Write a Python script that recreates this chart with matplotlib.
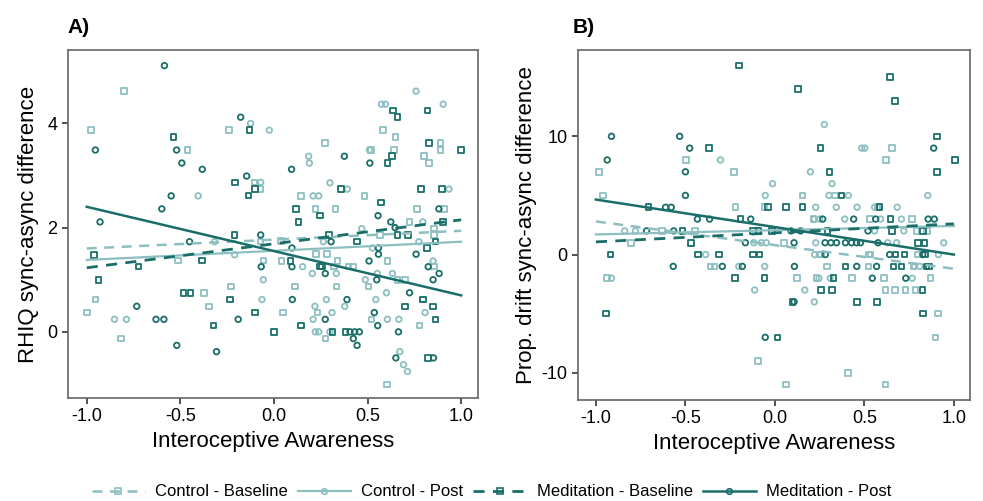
import numpy as np
import matplotlib.pyplot as plt
from matplotlib.lines import Line2D

plt.rcParams['font.family'] = ['Liberation Sans', 'DejaVu Sans']
plt.rcParams['axes.unicode_minus'] = False

light = '#8dbfc1'
dark = '#1a6e69'

# ---------- Panel A: RHIQ ----------
a_cb = [(-0.80,4.62),(-0.977,3.87),(-0.463,3.49),(-0.24,3.87),(-0.103,2.87),(-0.071,2.74),
        (0.581,3.87),(0.649,3.74),(0.273,3.62),(0.889,3.62),(0.889,3.49),(0.519,3.49),(0.642,3.49),
        (0.80,3.37),(0.827,3.24),(0.143,2.61),(0.483,2.61),(0.223,2.36),(0.328,2.36),(0.765,2.36),
        (0.909,2.36),(0.724,2.11),(-0.071,1.73),(-0.513,1.37),(-0.057,1.37),(-0.23,0.87),(-0.374,0.75),
        (-0.954,0.62),(-0.348,0.49),(-1.0,0.37),(-0.818,-0.13),(0.567,1.86),(0.856,1.98),(0.856,1.86),
        (0.037,1.74),(0.225,1.49),(0.282,1.49),(0.041,1.36),(0.34,1.36),(0.606,1.36),(0.321,1.25),
        (0.397,1.25),(0.421,1.25),(0.856,1.25),(0.659,1.0),(0.701,1.0),(0.111,0.87),(0.333,0.87),
        (0.506,0.87),(0.795,0.62),(0.048,0.37),(0.233,0.37),(0.522,0.24),(0.777,0.12),(0.276,-0.13),
        (0.604,-1.01)]
a_cp = [(-0.125,4.0),(-0.025,3.87),(-0.071,2.87),(-0.405,2.61),(0.759,4.62),(0.574,4.37),(0.595,4.37),
        (0.904,4.37),(0.51,3.49),(0.185,3.37),(0.189,3.24),(0.299,2.86),(0.392,2.74),(0.209,2.61),
        (0.239,2.61),(0.935,2.74),(0.795,2.11),(-0.317,1.73),(-0.21,1.48),(-0.057,1.0),(-0.064,0.62),
        (-0.852,0.24),(-0.788,0.24),(0.469,1.98),(0.264,1.73),(0.774,1.73),(0.526,1.61),(0.85,1.36),
        (0.153,1.25),(0.205,1.12),(0.333,1.12),(0.552,1.12),(0.633,1.12),(0.488,1.0),(0.601,0.75),
        (0.28,0.62),(0.544,0.62),(0.219,0.49),(0.378,0.49),(0.31,0.37),(0.807,0.37),(0.209,0.24),
        (0.606,0.24),(0.667,0.24),(0.221,0.0),(0.239,0.0),(0.299,0.0),(0.672,-0.38),(0.692,-0.63),
        (0.713,-0.76)]
a_mb = [(-0.536,3.74),(-0.13,3.87),(-0.207,2.87),(-0.10,2.74),(-0.137,2.62),(0.635,4.25),(0.661,4.12),
        (0.82,4.25),(0.827,3.62),(1.0,3.49),(0.631,3.37),(0.606,3.24),(0.358,2.74),(0.784,2.74),
        (0.898,2.74),(0.572,2.48),(0.119,2.36),(0.246,2.23),(0.132,2.11),(0.904,2.11),(-0.21,1.86),
        (-0.961,1.48),(-0.385,1.37),(-0.724,1.25),(-0.937,1.0),(-0.483,0.75),(-0.446,0.75),
        (-0.234,0.62),(-0.1,0.37),(-0.324,0.12),(0.0,0.0),(0.294,1.86),(0.661,1.86),(0.715,1.86),
        (0.445,1.73),(0.864,1.73),(0.816,1.61),(0.089,1.36),(0.246,1.25),(0.258,1.25),(0.795,0.62),
        (0.701,0.49),(0.85,0.49),(0.864,0.24),(0.143,0.12),(0.313,0.0),(0.381,0.0),(0.822,-0.5)]
a_mp = [(-0.585,5.11),(-0.954,3.49),(-0.52,3.49),(-0.492,3.24),(-0.383,3.12),(-0.178,4.12),(-0.146,2.99),
        (-0.549,2.61),(-0.599,2.36),(-0.929,2.11),(0.376,3.37),(0.512,3.24),(0.094,3.12),(0.881,2.36),
        (0.556,2.23),(0.624,2.11),(-0.071,1.86),(-0.451,1.73),(-0.068,1.25),(-0.733,0.49),(-0.63,0.24),
        (-0.588,0.24),(-0.191,0.24),(-0.519,-0.26),(-0.307,-0.38),(0.647,2.0),(0.305,1.73),(0.096,1.61),
        (0.558,1.61),(0.558,1.49),(0.759,1.49),(0.508,1.36),(0.096,1.25),(0.824,1.25),(0.274,1.12),
        (0.882,1.12),(0.549,1.0),(0.85,1.0),(0.724,0.75),(0.098,0.62),(0.39,0.62),(0.536,0.37),
        (0.274,0.24),(0.554,0.12),(0.406,0.0),(0.431,0.0),(0.456,0.0),(0.665,0.0),(0.424,-0.13),
        (0.444,-0.26),(0.651,-0.5),(0.852,-0.5)]
# fitted lines: value at x=-1 and x=1 (CB, CP, MB, MP)
a_fit_left = [1.60, 1.38, 1.23, 2.40]
a_fit_right = [1.94, 1.73, 2.15, 0.70]

# ---------- Panel B: proprioceptive drift ----------
b_cb = [(-0.983,7),(-0.959,5),(-0.496,8),(-0.23,7),(0.654,9),(0.62,8),(0.154,5),(0.335,5),(-0.22,4),
        (-0.057,4),(0.53,3),(0.767,3),(0.215,3),(-0.446,2),(-0.632,2),(0.79,2),(0.85,2),(0.572,4),
        (-0.804,1),(0.052,1),(0.526,0),(0.533,0),(0.8,0),(0.256,0),(-0.359,-1),(-0.337,-1),(0.291,-1),
        (0.524,-1),(0.774,-1),(-0.939,-2),(0.122,-2),(0.233,-2),(0.431,-2),(0.609,-2),(0.868,-2),
        (0.619,-3),(0.672,-3),(0.729,-3),(0.785,-3),(0.911,-5),(0.896,-7),(-0.093,-9),(0.407,-10),
        (0.061,-11),(0.618,-11)]
b_cp = [(0.276,11),(-0.304,8),(0.485,9),(0.502,9),(0.198,7),(-0.013,6),(0.319,6),(-0.054,5),(0.302,5),
        (0.41,5),(0.854,5),(0.228,4),(0.343,4),(0.459,4),(0.557,4),(0.576,4),(0.683,4),(0.22,3),(0.25,3),
        (0.39,3),(0.59,3),(0.707,3),(-0.839,2),(-0.779,2),(0.557,2),(0.72,2),(-0.118,1),(-0.076,1),
        (-0.048,1),(0.228,1),(0.63,1),(0.68,1),(0.943,1),(-0.387,0),(0.222,0),(0.248,0),(0.913,0),
        (-0.202,-1),(-0.057,-1),(0.81,-1),(0.78,-1),(-0.913,-2),(0.246,-2),(0.309,-2),(0.767,-2),
        (-0.113,-3),(0.167,-3),(0.22,-4)]
b_mb = [(-0.2,16),(0.13,14),(0.643,15),(0.672,13),(-0.368,9),(0.254,9),(0.907,10),(1.006,8),(0.306,7),
        (0.904,7),(0.372,5),(-0.707,4),(-0.04,4),(0.063,4),(0.154,4),(0.585,4),(-0.193,3),(0.646,3),
        (-0.517,2),(-0.122,2),(-0.091,2),(-0.017,2),(0.294,2),(0.654,2),(0.826,2),(-0.468,1),(0.798,1),
        (0.835,1),(-0.918,0),(-0.431,0),(-0.311,0),(-0.122,0),(-0.087,0),(0.674,0),(0.724,0),(0.84,0),
        (0.394,-1),(0.663,-1),(0.707,-1),(0.846,-1),(0.86,-1),(-0.222,-2),(-0.059,-2),(0.328,-2),
        (0.257,-3),(0.32,-3),(0.824,-3),(0.098,-4),(0.459,-4),(0.57,-4),(-0.944,-5),(0.826,-5),(0.015,-7)]
b_mp = [(-0.913,10),(-0.937,8),(-0.532,10),(-0.476,9),(-0.5,7),(-0.5,5),(0.887,9),(-0.611,4),(-0.579,4),
        (-0.433,3),(-0.365,3),(-0.135,3),(0.267,3),(0.44,3),(0.563,3),(0.856,3),(0.89,3),(-0.717,2),
        (-0.565,2),(0.09,2),(0.143,2),(0.52,2),(-0.165,1),(0.107,1),(0.28,1),(0.313,1),(0.344,1),
        (0.394,1),(0.428,1),(0.456,1),(0.478,1),(0.576,1),(0.282,0),(0.641,0),(0.826,0),(-0.568,-1),
        (-0.294,-1),(-0.182,-1),(0.109,-1),(0.457,-1),(0.568,-1),(0.544,-2),(0.731,-2),(0.107,-4),
        (-0.054,-7)]
b_fit_left = [2.80, 1.70, 1.07, 4.65]
b_fit_right = [-1.20, 2.42, 2.60, 0.00]

groups = ['Control - Baseline', 'Control - Post', 'Meditation - Baseline', 'Meditation - Post']
colors = [light, light, dark, dark]
markers = ['s', 'o', 's', 'o']
styles = [(0, (4, 3)), '-', (0, (4, 3)), '-']
widths = [1.8, 1.6, 2.0, 1.8]

fig = plt.figure(figsize=(9.83, 5.01), dpi=100)
axA = fig.add_axes([0.0692, 0.2056, 0.4171, 0.6946])
axB = fig.add_axes([0.5880, 0.2016, 0.3988, 0.6986])


def draw(ax, pts, left, right):
    for i in range(4):
        arr = np.array(pts[i])
        ax.scatter(arr[:, 0], arr[:, 1], marker=markers[i], s=16, facecolors='none',
                   edgecolors=colors[i], linewidths=1.3, zorder=2)
    for i in range(4):
        ax.plot([-1, 1], [left[i], right[i]], color=colors[i], linestyle=styles[i],
                linewidth=widths[i], zorder=3)
    ax.set_xlim(-1.1, 1.09)
    ax.set_xticks([-1.0, -0.5, 0.0, 0.5, 1.0])
    ax.set_xticklabels(['-1.0', '-0.5', '0.0', '0.5', '1.0'])
    ax.set_xlabel('Interoceptive Awareness', fontsize=16, labelpad=4)
    ax.tick_params(direction='out', length=4, width=1.2, color='#333333', labelsize=13)
    for sp in ax.spines.values():
        sp.set_color('#666666')
        sp.set_linewidth(1.2)


draw(axA, [a_cb, a_cp, a_mb, a_mp], a_fit_left, a_fit_right)
axA.set_ylim(-1.27, 5.41)
axA.set_yticks([0, 2, 4])
axA.set_ylabel('RHIQ sync-async difference', fontsize=16, labelpad=6)

draw(axB, [b_cb, b_cp, b_mb, b_mp], b_fit_left, b_fit_right)
axB.set_ylim(-12.3, 17.3)
axB.set_yticks([-10, 0, 10])
axB.set_ylabel('Prop. drift sync-async difference', fontsize=16, labelpad=3)

fig.text(0.069, 0.935, 'A)', fontsize=15, fontweight='bold')
fig.text(0.583, 0.935, 'B)', fontsize=15, fontweight='bold')

handles = [Line2D([0], [0], color=colors[i], linestyle=styles[i], linewidth=widths[i],
                  marker=markers[i], markersize=4, markerfacecolor='none',
                  markeredgewidth=1.2) for i in range(4)]
fig.legend(handles, groups, loc='center', bbox_to_anchor=(0.5, 0.018), ncol=4,
           frameon=False, fontsize=12, handlelength=3.2, columnspacing=0.6,
           handletextpad=0.6, numpoints=1)

fig.savefig('out.png', dpi=100)
